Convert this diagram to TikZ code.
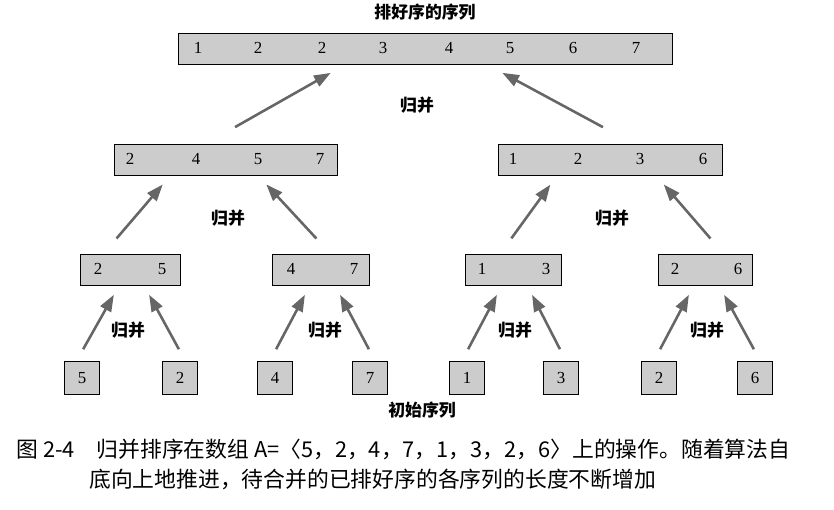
\documentclass[tikz,border=0pt]{standalone}
\usepackage{fontspec}
\setmainfont{Liberation Serif}
\newfontfamily\cjk{Noto Sans CJK SC}
\usetikzlibrary{calc,arrows.meta}

\tikzset{
  seq/.style={draw,fill=black!20,minimum height=0.93cm,inner sep=0pt},
  merge/.style={-{Triangle[length=5mm,width=3.6mm]},line width=2.2pt,black!60,shorten >=2pt,shorten <=2pt},
  lbl/.style={font=\cjk\bfseries\Large}
}

\begin{document}
\begin{tikzpicture}[x=0.03cm,y=-0.03cm]
       \useasboundingbox (0,0) rectangle (834,510);
       \node[lbl] (ttl) at (425,12) {排好序的序列};
       % boxes
       \node[seq,minimum width=14.82cm] (top) at (425,49) {};
       \node[seq,minimum width=6.69cm] (l) at (226,160) {};
       \node[seq,minimum width=6.72cm] (r) at (610,160) {};
       \node[seq,minimum width=3.0cm] (ll) at (130,270) {};
       \node[seq,minimum width=2.91cm] (lr) at (321,270) {};
       \node[seq,minimum width=2.88cm] (rl) at (513,270) {};
       \node[seq,minimum width=2.82cm] (rr) at (705,270) {};
       \foreach \n/\x/\v in {a/82/5,b/180/2,c/275/4,d/370/7,e/467/1,f/561/3,g/659/2,h/755/6}
         \node[seq,minimum width=1.05cm,minimum height=0.99cm,font=\Large] (\n) at (\x,378) {\v};
       % entries
       \foreach \x/\v in {198/1,258/2,322/2,383/3,449/4,510/5,573/6,636/7}
         \node[font=\Large] at (\x,48) {\v};
       \foreach \x/\v in {130/2,196/4,258/5,320/7,513/1,578/2,640/3,703/6}
         \node[font=\Large] at (\x,159) {\v};
       \foreach \x/\v in {98/2,162/5,291/4,354/7,482/1,546/3,675/2,738/6}
         \node[font=\Large] at (\x,269) {\v};
       % arrows
       \draw[merge] ($(l.north)+(7,-16)$) -- ($(top.south west)+(155,7)$);
       \draw[merge] ($(r.north)+(-5,-16)$) -- ($(top.south east)+(-172,7)$);
       \draw[merge] ($(ll.north)+(-15,-14)$) -- ($(l.south west)+(50,7)$);
       \draw[merge] ($(lr.north)+(-3,-14)$) -- ($(l.south east)+(-73,7)$);
       \draw[merge] ($(rl.north)+(-3,-14)$) -- ($(r.south west)+(54,7)$);
       \draw[merge] ($(rr.north)+(7,-14)$) -- ($(r.south east)+(-60,7)$);
       \foreach \c/\p/\d in {a/ll/-15,b/ll/18,c/lr/-15,d/lr/18,e/rl/-15,f/rl/18,g/rr/-15,h/rr/18}
         \draw[merge] ($(\c.north)+(0,-10)$) -- ($(\p.south)+(\d,7)$);
       % labels
       \node[lbl] at (417,105) {归并};
       \node[lbl] at (228,218) {归并};
       \node[lbl] at (612,218) {归并};
       \foreach \x in {128,325,515,707}
         \node[lbl] at (\x,330) {归并};
       \node[lbl] (init) at (422,410) {初始序列};
       % caption
       \node[anchor=west,font=\cjk\large,scale=1.55] (cap) at (10,449) {图 2-4\quad 归并排序在数组 \textit{A}=〈5，2，4，7，1，3，2，6〉上的操作。随着算法自};
       \node[anchor=west,font=\cjk\large,scale=1.55] (cap2) at (83,479) {底向上地推进，待合并的已排好序的各序列的长度不断增加};
\end{tikzpicture}
\end{document}
